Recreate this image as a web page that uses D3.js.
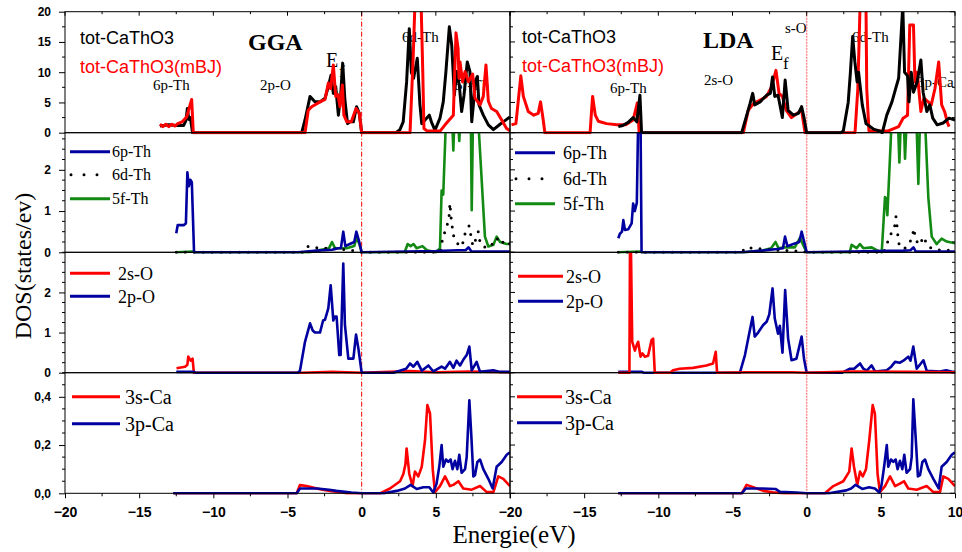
<!DOCTYPE html>
<html>
<head>
<meta charset="utf-8">
<title>DOS CaThO3</title>
<script src="https://cdn.jsdelivr.net/npm/d3@7"></script>
<style>
  body{margin:0;background:#fff;}
  svg{display:block;font-family:"Liberation Serif","Times New Roman",serif;}
  .lab{font-weight:bold;font-size:12px;}
  .xlab{font-weight:bold;font-size:14px;}
  .tot{font-family:"Liberation Sans",Arial,sans-serif;font-size:18px;}
  .note{font-size:15px;}
</style>
</head>
<body>
<svg width="962" height="552"></svg>
<script>
// energy axis (eV), shared by both columns
var xDomain = [-20, 10];
var xTicks = [-20, -15, -10, -5, 0, 5, 10];
var yTicksTot = [0, 5, 10, 15, 20];
var yTicksTh = [0, 1, 2];
var yTicksO = [0, 1, 2];
var yTicksCa = [0, 0.2, 0.4];

// ---- GGA column ----
var ggaTot = [[-13.6,1.1],[-13.0,1.3],[-12.5,1.2],[-12.0,1.2],[-11.85,2],[-11.75,4.0],[-11.65,2.2],[-11.55,2.5],[-11.4,0],
  [-4.04,0],[-3.82,2.1],[-3.48,6.0],[-3.15,5.1],[-2.81,5.1],[-2.47,5.7],[-2.25,7.6],[-2.07,9.5],[-1.91,6.5],[-1.75,7.6],
  [-1.57,2.9],[-1.42,6],[-1.28,11.5],[-1.13,5.4],[-0.95,1.5],[-0.79,1.8],[-0.56,1.8],[-0.34,4.3],[-0.16,3.2],[0,0],
  [2.3,0],[2.58,0.5],[2.8,1.8],[3.03,8.4],[3.21,17.2],[3.35,10],[3.5,9],[3.75,12.3],[3.93,4.6],[4.05,1.5],[4.27,2.1],
  [4.56,2.9],[4.7,1.8],[4.94,0.4],[5.28,2.4],[5.5,5.1],[5.68,10.1],[5.91,17.5],[6.07,14.5],[6.25,6.2],[6.4,10.1],
  [6.58,7.9],[6.74,3.5],[6.9,6.2],[7.12,11.7],[7.3,10.1],[7.42,1.8],[7.53,4.6],[7.64,8.4],[7.8,9.3],[7.91,4.6],
  [8.2,2.9],[8.54,1.3],[8.88,0.5],[9.33,1.4],[9.66,2.0],[10,2.6]];
var ggaMbj = [[-13.6,1.4],[-13.4,1.0],[-13.2,1.4],[-13.0,1.0],[-12.8,1.4],[-12.6,1.1],[-12.4,1.5],[-12.1,1.8],[-11.8,2.6],
  [-11.46,5.5],[-11.35,0],[-3.82,0],[-3.6,3.7],[-3.37,4.3],[-2.81,5.1],[-2.47,5.5],[-2.25,8.2],[-2.09,7.3],[-1.91,11.2],
  [-1.75,6],[-1.6,6.3],[-1.46,4.3],[-1.3,7.9],[-1.2,2.9],[-1.0,1.8],[-0.7,1.8],[-0.38,4.0],[-0.16,3.2],[0,0],
  [3.26,0],[3.48,12.9],[3.6,22],[4.0,22],[4.12,10],[4.2,0.7],[4.4,0.3],[5.3,0.3],[5.62,1.3],[5.9,2.1],[6.18,2.9],
  [6.36,16.5],[6.5,13.9],[6.56,9],[6.63,11.7],[6.8,8.4],[6.97,10.1],[7.2,8.4],[7.48,9.7],[7.64,5.7],[7.98,4.6],
  [8.2,6],[8.38,11.2],[8.54,5.2],[8.75,4.0],[9.1,3.5],[9.44,2.1],[9.77,0.7],[10,0.3]];
var gga6p = [[-12.5,0.46],[-12.4,0.66],[-12.0,0.66],[-11.85,0.7],[-11.75,1.94],[-11.65,1.6],[-11.55,1.76],[-11.45,1.7],
  [-11.3,0],[-4.3,0],[-3.0,0.04],[-2.0,0.06],[-1.6,0.1],[-1.4,0.1],[-1.24,0.5],[-1.1,0.15],[-0.8,0.2],[-0.5,0.25],
  [-0.36,0.5],[-0.2,0.3],[0,0],[3,0.02],[5,0.03],[6.5,0.05],[7.0,0.05],[7.2,0.12],[7.4,0.02],[10,0.02]];
var gga6d = [[-12.5,0],[-4.0,0],[-3.8,0.13],[-3.4,0.15],[-2.9,0.1],[-2.3,0.1],[-1.5,0.08],[-0.8,0.05],[-0.3,0.03],[0,0],
  [5.3,0],[5.39,0.14],[5.45,0.35],[5.73,0.6],[5.9,0.9],[5.95,1.19],[6.05,0.75],[6.2,0.4],[6.4,0.25],[6.63,0.13],
  [6.8,0.2],[6.97,0.45],[7.1,0.55],[7.24,0.64],[7.35,0.43],[7.5,0.15],[7.68,0.3],[7.86,0.5],[8.0,0.2],[8.43,0.1],
  [8.8,0.2],[9.1,0.35],[9.4,0.2],[9.66,0.3],[10,0.2]];
var gga5f = [[-12.5,0],[-11.4,0.02],[-11.2,0],[-3.5,0],[-2.9,0.05],[-2.2,0.1],[-2.0,0.25],[-1.8,0.1],[-1.0,0.1],
  [-0.5,0.15],[-0.35,0.35],[-0.15,0.2],[0,0],[2.9,0],[3.1,0.2],[3.3,0.15],[3.5,0.2],[3.7,0.1],[4.1,0.15],[4.4,0.05],
  [5.0,0],[5.28,0.1],[5.39,1.5],[5.5,1.4],[5.68,3.2],[6.1,3.2],[6.18,2.47],[6.25,3.2],[6.5,3.2],[6.58,2.7],[6.66,3.2],
  [7.36,3.2],[7.42,1.02],[7.5,3.2],[7.86,3.2],[8.31,0.38],[8.54,0.14],[8.88,0.18],[9.1,0.38],[9.33,0.25],[9.77,0.2],[10,0.2]];
var gga2s = [[-12.48,0.11],[-11.91,0.15],[-11.75,0.2],[-11.69,0.4],[-11.53,0.3],[-11.4,0.35],[-11.31,0],[-4,0],
  [-2,0.02],[0,0],[3.26,0.04],[5,0.01],[7.2,0.03],[10,0.01]];
var gga2p = [[-12.5,0.02],[-11.3,0.02],[-11.2,0],[-4.3,0],[-4.16,0.05],[-3.82,0.77],[-3.48,1.23],[-3.3,1.05],[-3.15,1.0],
  [-2.81,1.0],[-2.6,1.3],[-2.47,1.32],[-2.25,1.6],[-2.09,2.18],[-1.91,1.3],[-1.8,1.4],[-1.69,1.4],[-1.51,0.44],
  [-1.42,0.44],[-1.24,2.72],[-1.13,1.2],[-0.9,0.35],[-0.56,0.35],[-0.38,0.95],[-0.22,0.6],[0,0],[2.14,0],[3.0,0.1],
  [3.26,0.23],[3.49,0.15],[3.75,0.27],[4.05,0.05],[4.5,0.18],[4.83,0.03],[5.39,0.15],[5.62,0.1],[5.95,0.27],[6.18,0.12],
  [6.4,0.3],[6.63,0.18],[6.85,0.32],[7.08,0.44],[7.26,0.65],[7.42,0.06],[7.75,0.27],[7.98,0.02],[8.88,0.06],[9.33,0.02],[10,0.02]];
var gga3s = [[-12.7,0],[-4.38,0],[-4.16,0.034],[-3.71,0.03],[-2.81,0.017],[-2.14,0.01],[-1.46,0.005],[-1.0,0],[1.24,0],
  [1.91,0.02],[2.59,0.05],[2.81,0.08],[2.95,0.12],[3.03,0.186],[3.21,0.08],[3.43,0.03],[3.59,0.09],[3.82,0.07],[4.05,0.11],
  [4.27,0.22],[4.43,0.366],[4.61,0.33],[4.79,0.1],[4.94,0.005],[5.28,0.03],[5.62,0.07],[5.95,0.03],[6.18,0.035],[6.52,0.05],
  [6.85,0.02],[7.42,0.015],[7.98,0.03],[8.43,0.005],[8.88,0.005],[9.21,0.07],[9.55,0.06],[10,0.03]];
var gga3p = [[-12.7,0],[-4.38,0],[-4.16,0.02],[-3.0,0.02],[-2.2,0.015],[-1.7,0.01],[-0.7,0.003],[0,0],[1.5,0],[2.36,0.01],
  [2.92,0.02],[3.3,0.035],[3.71,0.018],[4.16,0.025],[4.56,0.025],[4.83,0.003],[5.05,0.04],[5.23,0.11],[5.39,0.2],[5.5,0.11],
  [5.68,0.14],[5.84,0.13],[6.0,0.14],[6.13,0.1],[6.29,0.135],[6.45,0.1],[6.58,0.16],[6.74,0.085],[6.97,0.1],[7.08,0.15],
  [7.26,0.386],[7.4,0.23],[7.53,0.07],[7.64,0.075],[7.8,0.13],[7.98,0.14],[8.2,0.1],[8.54,0.06],[8.83,0.02],[9.1,0.11],
  [9.44,0.13],[9.78,0.16],[10,0.17]];

// ---- LDA column ----
var ldaTot = [[-12.7,1.0],[-12.4,1.2],[-12.03,1.7],[-11.7,2.5],[-11.45,1.8],[-11.24,6.2],[-11.13,0],[-4.38,0],[-4.04,2.9],
  [-3.82,4.8],[-3.64,6.5],[-3.5,4.6],[-3.14,5.1],[-2.7,6.2],[-2.45,6.5],[-2.3,9.2],[-2.15,6],[-1.93,6.2],[-1.64,2.5],
  [-1.45,8.7],[-1.25,3.7],[-0.9,2.9],[-0.56,3.2],[-0.34,4.3],[-0.18,2.5],[0,0],[2.3,0],[2.47,0.3],[2.8,5],[2.95,10],
  [3.1,15.9],[3.25,11.7],[3.4,8.4],[3.5,10],[3.75,4.6],[4.0,1.5],[4.5,0.6],[4.9,0.3],[5.1,0],[5.4,2.9],[5.75,5.1],
  [6.0,7.3],[6.2,9],[6.48,21],[6.6,10],[6.8,9.4],[6.9,5.1],[7.05,10],[7.2,6.7],[7.45,8.4],[7.7,12],[7.85,6.7],[8.1,3.5],
  [8.3,4.6],[8.5,2.4],[8.8,1.3],[9.2,1.6],[9.6,2.4],[10,2.1]];
var ldaMbj = [[-19.9,1.3],[-19.6,1.5],[-19.27,9.4],[-19.1,6.0],[-18.77,3.5],[-18.4,2.9],[-18.1,3.2],[-17.94,5.1],[-17.76,2.1],
  [-17.65,0],[-14.6,0],[-14.5,3.7],[-14.43,6.0],[-14.25,2.9],[-14.05,1.9],[-13.49,1.5],[-12.81,1.3],[-12.2,1.3],[-11.7,2.1],
  [-11.42,4.9],[-11.29,0],[-4.27,0],[-3.94,3.7],[-3.59,4.8],[-3.14,5.4],[-2.7,6.0],[-2.36,7.6],[-2.07,10.3],[-1.86,6.5],
  [-1.64,6.0],[-1.37,3.7],[-1.03,2.5],[-0.34,3.7],[-0.11,0],[3.26,0],[3.45,7.3],[3.6,21],[4.0,21],[4.05,7.3],[4.2,0.3],
  [5.5,0.3],[6.2,1],[6.5,2.4],[6.8,2.9],[6.95,17.8],[7.2,17.8],[7.3,8.4],[7.45,10],[7.7,3.5],[7.9,5.7],[8.2,5.1],
  [8.4,4.6],[8.65,7.3],[8.9,11.7],[9.1,4.6],[9.3,3.5],[9.5,1.6],[9.6,1.0]];
var lda6p = [[-12.7,0.34],[-12.59,0.45],[-12.45,0.5],[-12.36,0.78],[-12.25,0.54],[-12.02,0.56],[-11.8,0.7],[-11.7,1.18],
  [-11.59,1.0],[-11.45,1.2],[-11.36,3.2],[-11.2,3.2],[-11.13,0],[-4.3,0],[-3.0,0.04],[-2.0,0.08],[-1.6,0.1],[-1.46,0.38],
  [-1.3,0.15],[-0.9,0.2],[-0.5,0.25],[-0.34,0.5],[-0.2,0.3],[0,0],[3,0.02],[6.5,0.04],[7.0,0.05],[7.2,0.12],[7.35,0.02],[10,0.02]];
var lda6d = [[-12.7,0],[-4.4,0],[-4.1,0.12],[-3.7,0.1],[-3.0,0.08],[-2.0,0.05],[-1.0,0.04],[0,0],[5.2,0],[5.39,0.18],
  [5.62,0.42],[5.8,0.5],[5.91,0.58],[6.02,0.86],[6.07,0.74],[6.13,0.46],[6.25,0.14],[6.45,0.1],[6.63,0.1],[6.9,0.2],
  [7.08,0.34],[7.24,0.58],[7.3,0.4],[7.45,0.25],[7.64,0.18],[7.86,0.38],[8.2,0.14],[8.5,0.08],[9,0.05],[10,0.05]];
var lda5f = [[-12.7,0],[-11.2,0.02],[-11.1,0],[-4.3,0],[-3.0,0.04],[-2.4,0.1],[-2.1,0.25],[-1.9,0.1],[-1.5,0.12],[-0.8,0.12],
  [-0.45,0.35],[-0.2,0.15],[0,0],[2.9,0],[3.03,0.18],[3.37,0.1],[3.59,0.2],[3.82,0.1],[4.38,0.12],[4.72,0.05],[5.06,0],
  [5.28,1.34],[5.36,1.3],[5.44,0.9],[5.73,3.2],[6.15,3.2],[6.25,2.18],[6.35,3.2],[6.55,3.2],[6.63,2.27],[6.74,3.2],
  [7.4,3.2],[7.53,1.66],[7.64,3.2],[7.98,3.2],[8.2,1.34],[8.43,0.38],[8.76,0.2],[9.1,0.33],[9.44,0.26],[10,0.22]];
var lda2s = [[-12.7,0],[-11.95,0],[-11.91,3.2],[-11.85,3.2],[-11.76,0.77],[-11.58,0.55],[-11.45,0.7],[-11.36,0.77],
  [-11.2,0.4],[-11.07,0.48],[-10.91,0.4],[-10.69,0.42],[-10.46,0.81],[-10.35,0.85],[-10.24,0],[-9.2,0],[-9.01,0.06],
  [-8.56,0.1],[-7.66,0.12],[-6.76,0.18],[-6.31,0.23],[-6.13,0.52],[-6.04,0],[-4,0.01],[-1,0.01],[0,0],[3,0.03],[7,0.02],[10,0.01]];
var lda2p = [[-12.7,0.02],[-11.1,0.02],[-11.0,0],[-4.5,0],[-4.16,0.44],[-3.94,0.85],[-3.65,1.39],[-3.5,0.9],[-3.27,1.0],
  [-2.93,1.19],[-2.7,1.27],[-2.52,1.45],[-2.3,2.1],[-2.15,1.35],[-1.93,0.97],[-1.81,1.17],[-1.63,0.5],[-1.45,2.06],
  [-1.25,0.85],[-1.02,0.31],[-0.69,0.35],[-0.34,0.9],[-0.18,0.35],[0,0],[2.4,0],[2.92,0.1],[3.2,0.1],[3.6,0.23],
  [3.82,0.1],[4.05,0.05],[4.38,0.18],[4.61,0.03],[5.4,0.06],[5.7,0.15],[5.96,0.27],[6.29,0.25],[6.52,0.3],[6.85,0.4],
  [7.0,0.3],[7.19,0.65],[7.42,0.1],[7.87,0.31],[8.09,0.05],[8.99,0.03],[9.4,0.06],[9.89,0.02],[10,0.02]];
var lda3s = [[-12.7,0],[-4.38,0],[-4.05,0.035],[-3.6,0.025],[-2.92,0.01],[-2.3,0.004],[-1.5,0],[1.23,0],[1.8,0.03],
  [2.47,0.05],[2.87,0.09],[3.03,0.186],[3.19,0.11],[3.41,0.035],[3.6,0.09],[3.78,0.07],[4.0,0.1],[4.22,0.22],[4.45,0.366],
  [4.6,0.33],[4.78,0.08],[4.94,0.005],[5.28,0.03],[5.62,0.07],[5.96,0.03],[6.29,0.04],[6.56,0.05],[6.85,0.02],[7.42,0.015],
  [8.09,0.03],[8.54,0.005],[8.99,0.005],[9.21,0.07],[9.55,0.06],[10,0.03]];
var lda3p = [[-12.7,0],[-4.38,0],[-4.1,0.02],[-3.0,0.02],[-2.1,0.018],[-1.8,0.006],[-0.7,0.003],[0,0],[1.5,0],[2.67,0.012],
  [3.0,0.02],[3.3,0.035],[3.75,0.018],[4.2,0.025],[4.6,0.02],[4.9,0.003],[5.05,0.035],[5.22,0.11],[5.4,0.2],[5.5,0.11],
  [5.68,0.14],[5.84,0.13],[6.0,0.14],[6.13,0.1],[6.29,0.135],[6.45,0.1],[6.58,0.16],[6.74,0.085],[6.97,0.1],[7.08,0.15],
  [7.19,0.39],[7.35,0.23],[7.5,0.07],[7.64,0.075],[7.8,0.13],[7.98,0.14],[8.2,0.1],[8.54,0.06],[8.9,0.02],[9.1,0.11],
  [9.44,0.13],[9.78,0.16],[10,0.17]];

var red = "#ff0000", blue = "#0000a0", green = "#138a13", black = "#000000";

var svg = d3.select("svg");

var cols = [{x0: 65, x1: 510}, {x0: 510, x1: 955}];
cols.forEach(function(c) { c.x = d3.scaleLinear().domain(xDomain).range([c.x0, c.x1]); });

var rows = [
  {top: 11.7, bot: 132.7, dom: [0, 20], ticks: yTicksTot, minor: 2.5, fmt: d3.format("d")},
  {top: 132.7, bot: 252.3, dom: [0, 2.9], ticks: yTicksTh, minor: 0.25, fmt: d3.format("d")},
  {top: 252.3, bot: 372.7, dom: [0, 3], ticks: yTicksO, minor: 0.25, fmt: d3.format("d")},
  {top: 372.7, bot: 493.3, dom: [0, 0.5], ticks: yTicksCa, minor: 0.05, fmt: function(v) { return d3.format(".1f")(v).replace(".", ","); }}
];
rows.forEach(function(r) { r.y = d3.scaleLinear().domain(r.dom).range([r.bot, r.top]); });

// which series go in each panel, in drawing order
var cells = [
  {c: 0, r: 0, lines: [[ggaTot, black], [ggaMbj, red]]},
  {c: 1, r: 0, lines: [[ldaMbj, red], [ldaTot, black]]},
  {c: 0, r: 1, lines: [[gga5f, green], [gga6d, black, true], [gga6p, blue]],
    legend: {x1: 70, x2: 110, tx: 112, ys: [19, 42, 66], size: 16, names: ["6p-Th", "6d-Th", "5f-Th"], cols: [blue, black, green]}},
  {c: 1, r: 1, lines: [[lda5f, green], [lda6d, black, true], [lda6p, blue]],
    legend: {x1: 515, x2: 555, tx: 563, ys: [20, 46, 71], size: 18, names: ["6p-Th", "6d-Th", "5f-Th"], cols: [blue, black, green]}},
  {c: 0, r: 2, lines: [[gga2s, red], [gga2p, blue]],
    legend: {x1: 70, x2: 110, tx: 118, ys: [21, 44], size: 18, names: ["2s-O", "2p-O"], cols: [red, blue]}},
  {c: 1, r: 2, lines: [[lda2p, blue], [lda2s, red]],
    legend: {x1: 518, x2: 563, tx: 566, ys: [24, 49], size: 18, names: ["2s-O", "2p-O"], cols: [red, blue]}},
  {c: 0, r: 3, lines: [[gga3s, red], [gga3p, blue]],
    legend: {x1: 72, x2: 120, tx: 125, ys: [24, 51], size: 20, names: ["3s-Ca", "3p-Ca"], cols: [red, blue]}},
  {c: 1, r: 3, lines: [[lda3s, red], [lda3p, blue]],
    legend: {x1: 517, x2: 562, tx: 565, ys: [24, 50], size: 20, names: ["3s-Ca", "3p-Ca"], cols: [red, blue]}}
];

// annotations in the top panels (drawn under the curves)
var notes = [
  {x: 80, y: 44, t: "tot-CaThO3", cls: "tot", fill: black},
  {x: 80, y: 73, t: "tot-CaThO3(mBJ)", cls: "tot", fill: red},
  {x: 248, y: 50, t: "GGA", size: 24, bold: true},
  {x: 326, y: 67, t: "E", size: 20},
  {x: 339, y: 77, t: "f", size: 17},
  {x: 153, y: 90, t: "6p-Th", cls: "note"},
  {x: 260, y: 90, t: "2p-O", cls: "note"},
  {x: 402, y: 42, t: "6d-Th", cls: "note"},
  {x: 455, y: 90, t: "5f-Th", cls: "note"},
  {x: 522, y: 43, t: "tot-CaThO3", cls: "tot", fill: black},
  {x: 522, y: 72, t: "tot-CaThO3(mBJ)", cls: "tot", fill: red},
  {x: 703, y: 48, t: "LDA", size: 24, bold: true},
  {x: 771, y: 60, t: "E", size: 20},
  {x: 783, y: 69, t: "f", size: 17},
  {x: 785, y: 33, t: "s-O", cls: "note"},
  {x: 704, y: 85, t: "2s-O", cls: "note"},
  {x: 610, y: 93, t: "6p-Th", cls: "note"},
  {x: 852, y: 42, t: "6d-Th", cls: "note"},
  {x: 917, y: 87, t: "3p-Ca", cls: "note"}
];

var defs = svg.append("defs");

notes.forEach(function(n) {
  var t = svg.append("text").attr("x", n.x).attr("y", n.y).text(n.t)
    .attr("fill", n.fill || black);
  if (n.cls) t.attr("class", n.cls);
  if (n.size) t.style("font-size", n.size + "px");
  if (n.bold) t.style("font-weight", "bold");
});

// Fermi level lines
svg.append("line").attr("x1", cols[0].x(0)).attr("x2", cols[0].x(0))
  .attr("y1", rows[0].top).attr("y2", rows[3].bot)
  .attr("stroke", red).attr("stroke-width", 1).attr("stroke-dasharray", "5,2,1,2");
svg.append("line").attr("x1", cols[1].x(0)).attr("x2", cols[1].x(0))
  .attr("y1", rows[0].top).attr("y2", rows[3].bot)
  .attr("stroke", "#ff8c8c").attr("stroke-width", 1.5).attr("stroke-dasharray", "2,1");

cells.forEach(function(cell, i) {
  var col = cols[cell.c], row = rows[cell.r];
  defs.append("clipPath").attr("id", "clip" + i).append("rect")
    .attr("x", col.x0).attr("y", row.top)
    .attr("width", col.x1 - col.x0).attr("height", row.bot - row.top + 1.5);
  var g = svg.append("g").attr("clip-path", "url(#clip" + i + ")");
  var line = d3.line().x(function(d) { return col.x(d[0]); }).y(function(d) { return row.y(d[1]); });
  cell.lines.forEach(function(s) {
    var p = g.append("path").datum(s[0]).attr("d", line)
      .attr("fill", "none").attr("stroke", s[1])
      .attr("stroke-linejoin", "round");
    if (s[2]) {
      p.attr("stroke-width", 3).attr("stroke-dasharray", "0,9").attr("stroke-linecap", "round");
    } else {
      p.attr("stroke-width", cell.r === 0 ? 3 : 2.6);
    }
  });

  if (cell.legend) {
    var L = cell.legend;
    L.names.forEach(function(name, k) {
      var yy = row.top + L.ys[k];
      var ln = svg.append("line").attr("x1", L.x1).attr("x2", L.x2).attr("y1", yy).attr("y2", yy)
        .attr("stroke", L.cols[k]).attr("stroke-width", 3);
      if (name === "6d-Th") {
        ln.attr("stroke-dasharray", "0,13").attr("stroke-linecap", "round").attr("x1", L.x1 + 1);
      }
      svg.append("text").attr("x", L.tx).attr("y", yy + L.size * 0.35)
        .style("font-size", L.size + "px").text(name);
    });
  }

  // frame
  svg.append("rect").attr("x", col.x0).attr("y", row.top)
    .attr("width", col.x1 - col.x0).attr("height", row.bot - row.top)
    .attr("fill", "none").attr("stroke", black).attr("stroke-width", 1);
});

function tickLines(vals, f) {
  var g = svg.append("g").attr("stroke", black).attr("stroke-width", 1);
  vals.forEach(function(v) { var p = f(v); g.append("line").attr("x1", p[0]).attr("y1", p[1]).attr("x2", p[2]).attr("y2", p[3]); });
}

// y axes
rows.forEach(function(r) {
  var minors = d3.range(r.dom[0], r.dom[1] + 1e-9, r.minor).filter(function(v) { return r.ticks.indexOf(+v.toFixed(4)) < 0; });
  // left column: outward ticks with labels
  var ax = d3.axisLeft(r.y).tickValues(r.ticks).tickSize(6).tickPadding(8).tickFormat(r.fmt);
  var ga = svg.append("g").attr("transform", "translate(65,0)").call(ax);
  ga.select(".domain").remove();
  ga.selectAll("text").attr("class", "lab").attr("font-family", null).attr("font-size", null);
  tickLines(minors, function(v) { return [65, r.y(v), 62, r.y(v)]; });
  // right column: inward ticks on both sides
  tickLines(r.ticks, function(v) { return [510, r.y(v), 515, r.y(v)]; });
  tickLines(minors, function(v) { return [510, r.y(v), 513, r.y(v)]; });
  tickLines(r.ticks, function(v) { return [955, r.y(v), 950, r.y(v)]; });
  tickLines(minors, function(v) { return [955, r.y(v), 952, r.y(v)]; });
});

// x axes
var xMinor = d3.range(-17.5, 10, 5);
cols.forEach(function(c, ci) {
  var vals = ci === 0 ? xTicks.slice(0, -1) : xTicks;
  var ax = d3.axisBottom(c.x).tickValues(vals).tickSize(5).tickPadding(9).tickFormat(d3.format("d"));
  var ga = svg.append("g").attr("transform", "translate(0," + rows[3].bot + ")").call(ax);
  ga.select(".domain").remove();
  ga.selectAll("text").attr("class", "xlab").attr("font-family", null).attr("font-size", null);
  if (ci === 0) tickLines([10], function(v) { return [c.x(v), rows[3].bot, c.x(v), rows[3].bot + 5]; });
  tickLines(xMinor, function(v) { return [c.x(v), rows[3].bot, c.x(v), rows[3].bot + 3]; });
  // top border ticks, inward
  tickLines(xTicks, function(v) { return [c.x(v), rows[0].top, c.x(v), rows[0].top + 4]; });
  tickLines(xMinor, function(v) { return [c.x(v), rows[0].top, c.x(v), rows[0].top + 2.5]; });
});

// axis titles
svg.append("text").attr("x", 514).attr("y", 543).attr("text-anchor", "middle")
  .style("font-size", "25px").text("Energie(eV)");
svg.append("text").attr("transform", "translate(31,266) rotate(-90)").attr("text-anchor", "middle")
  .style("font-size", "24px").text("DOS(states/ev)");
</script>
</body>
</html>
